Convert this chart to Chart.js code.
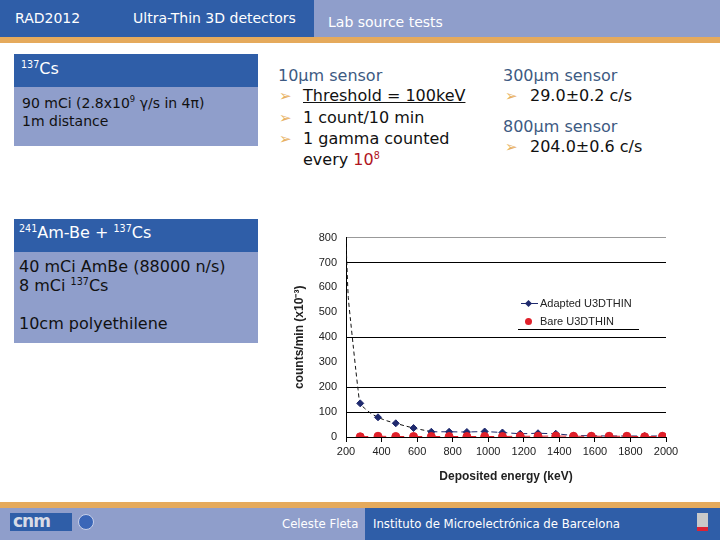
<!DOCTYPE html>
<html>
<head>
<meta charset="utf-8">
<script src="https://cdn.jsdelivr.net/npm/chart.js@4/dist/chart.umd.min.js"></script>
<style>
	body { margin: 0; width: 720px; height: 540px; position: relative; overflow: hidden; background: #fff; font-family: "DejaVu Sans", Verdana, sans-serif; }
	.abs { position: absolute; white-space: nowrap; }
	.dark { background: #2f5ea8; }
	.lav { background: #8f9ecb; }
	.orange { background: #e5aa5c; }
	.head { color: #fff; font-size: 14px; line-height: 16px; }
	.box { color: #111; font-size: 14px; line-height: 17px; }
	.sub { color: #3d5a82; font-size: 16px; line-height: 18px; }
	.txt { color: #111; font-size: 16px; line-height: 18px; }
	.bul { color: #e8b060; font-size: 15px; line-height: 18px; }
	sup { font-size: 60%; line-height: 0; }
	.leg { font-family: "Liberation Sans", Arial, sans-serif; font-size: 11px; color: #222; line-height: 13px; }
	.foot { color: #fff; font-size: 13px; line-height: 14px; font-family: "DejaVu Sans Condensed", "DejaVu Sans", sans-serif; }
</style>
</head>
<body>
<!-- header -->
<div class="abs dark" style="left:0;top:0;width:314px;height:37px;"></div>
<div class="abs lav" style="left:314px;top:0;width:406px;height:37px;"></div>
<div class="abs orange" style="left:0;top:37px;width:720px;height:6px;"></div>
<div class="abs head" style="left:15px;top:10px;">RAD2012</div>
<div class="abs head" style="left:133px;top:10px;">Ultra-Thin 3D detectors</div>
<div class="abs head" style="left:328px;top:14px;">Lab source tests</div>

<!-- 137Cs box -->
<div class="abs dark" style="left:14px;top:54px;width:244px;height:33px;"></div>
<div class="abs lav" style="left:14px;top:87px;width:244px;height:59px;"></div>
<div class="abs" style="left:21px;top:59px;color:#fff;font-size:16px;line-height:20px;"><sup>137</sup>Cs</div>
<div class="abs box" style="left:22px;top:95px;">90 mCi (2.8x10<sup>9</sup> γ/s in 4π)</div>
<div class="abs box" style="left:22px;top:113px;">1m distance</div>

<!-- middle column -->
<div class="abs sub" style="left:278px;top:67px;">10μm sensor</div>
<div class="abs bul" style="left:279px;top:87px;">➢</div>
<div class="abs txt" style="left:303px;top:87px;text-decoration:underline;">Threshold = 100keV</div>
<div class="abs bul" style="left:279px;top:109px;">➢</div>
<div class="abs txt" style="left:303px;top:109px;">1 count/10 min</div>
<div class="abs bul" style="left:279px;top:130px;">➢</div>
<div class="abs txt" style="left:303px;top:130px;">1 gamma counted</div>
<div class="abs txt" style="left:303px;top:151px;">every <span style="color:#b0151e;">10<sup>8</sup></span></div>

<!-- right column -->
<div class="abs sub" style="left:503px;top:67px;">300μm sensor</div>
<div class="abs bul" style="left:505px;top:87px;">➢</div>
<div class="abs txt" style="left:530px;top:87px;">29.0±0.2 c/s</div>
<div class="abs sub" style="left:503px;top:118px;">800μm sensor</div>
<div class="abs bul" style="left:505px;top:138px;">➢</div>
<div class="abs txt" style="left:530px;top:138px;">204.0±0.6 c/s</div>

<!-- AmBe box -->
<div class="abs dark" style="left:14px;top:219px;width:244px;height:33px;"></div>
<div class="abs lav" style="left:14px;top:252px;width:244px;height:91px;"></div>
<div class="abs" style="left:19px;top:224px;color:#fff;font-size:16px;line-height:18px;"><sup>241</sup>Am-Be + <sup>137</sup>Cs</div>
<div class="abs txt" style="left:19px;top:258px;">40 mCi AmBe (88000 n/s)</div>
<div class="abs txt" style="left:19px;top:277px;">8 mCi <sup>137</sup>Cs</div>
<div class="abs txt" style="left:19px;top:315px;">10cm polyethilene</div>

<!-- chart -->
<canvas id="lineChart" class="abs" style="left:290px;top:222px;" width="400" height="270"></canvas>
<div class="abs" style="left:521px;top:303px;width:17px;height:1px;background:#1f2a6e;"></div>
<div class="abs" style="left:526px;top:301px;width:5px;height:5px;background:#1f2a6e;transform:rotate(45deg);"></div>
<div class="abs leg" style="left:540px;top:297px;">Adapted U3DTHIN</div>
<div class="abs" style="left:525px;top:318px;width:7px;height:7px;border-radius:50%;background:#e0202a;"></div>
<div class="abs leg" style="left:540px;top:315px;">Bare U3DTHIN</div>
<div class="abs" style="left:518px;top:329px;width:121px;height:1px;background:#000;"></div>

<!-- footer -->
<div class="abs orange" style="left:0;top:502px;width:720px;height:6px;"></div>
<div class="abs lav" style="left:0;top:508px;width:365px;height:32px;"></div>
<div class="abs dark" style="left:365px;top:508px;width:355px;height:32px;"></div>
<div class="abs" style="left:10px;top:513px;width:62px;height:18px;background:#2f5ea8;"></div>
<div class="abs" style="left:13px;top:511px;color:#d8dbe6;font:bold 17px 'DejaVu Sans', sans-serif;line-height:20px;letter-spacing:-1px;">cnm</div>
<div class="abs" style="left:78px;top:514px;width:16px;height:16px;border-radius:50%;background:#3a66b8;border:1px solid #c8d0ea;box-sizing:border-box;"></div>
<div class="abs foot" style="left:282px;top:517px;">Celeste Fleta</div>
<div class="abs foot" style="left:373px;top:517px;">Instituto de Microelectrónica de Barcelona</div>
<div class="abs" style="left:697px;top:513px;width:11px;height:18px;background:#c9c9c9;border-bottom:4px solid #d23;box-sizing:border-box;"></div>

<script>
const energy = [280, 380, 480, 580, 680, 780, 880, 980, 1080, 1180, 1280, 1380, 1480, 1580, 1680, 1780, 1880, 1980];
const adaptedCounts = [135, 79, 55, 36, 21, 21, 20, 22, 18, 13, 15, 13, 6, 5, 4, 4, 4, 4];
const bareCounts = [1, 3, 2, 2, 2, 2, 2, 2, 2, 3, 3, 4, 3, 3, 3, 3, 1, 3];
const fitEnergy = [200, 205, 213, 226, 240, 255, 268, 280, 310, 340, 380, 430, 480, 530, 580, 640, 680];
const fitCounts = [790, 690, 560, 465, 370, 270, 190, 135, 112, 95, 79, 65, 55, 45, 36, 27, 22];
const xTicks = [200, 400, 600, 800, 1000, 1200, 1400, 1600, 1800, 2000];
const gridShown = [100, 200, 400, 700];

const navy = "#1f2a6e";
const red = "#e0202a";

const toPoints = (xs, ys) => xs.map((x, i) => ({ x: x, y: ys[i] }));

const ctx = document.getElementById("lineChart");
const lineChart = new Chart(ctx, {
	type: "line",
	data: {
		datasets: [
			{
				label: "Bare U3DTHIN",
				data: toPoints(energy, bareCounts),
				borderColor: red,
				backgroundColor: red,
				borderWidth: 1,
				borderDash: [8, 10],
				pointStyle: "circle",
				pointRadius: 4,
				order: 0,
			},
			{
				label: "Adapted U3DTHIN",
				data: toPoints(energy, adaptedCounts),
				borderColor: navy,
				backgroundColor: navy,
				borderWidth: 1,
				borderDash: [6, 4],
				pointStyle: "rectRot",
				pointRadius: 3.5,
				segment: {
					borderColor: (c) => (c.p0.parsed.x < 650 ? "rgba(0,0,0,0)" : navy),
				},
				order: 1,
			},
			{
				label: "fit",
				data: toPoints(fitEnergy, fitCounts),
				borderColor: "#111",
				borderWidth: 1,
				borderDash: [4, 3],
				pointRadius: 0,
				tension: 0.3,
				order: 2,
			},
		],
	},
	options: {
		responsive: false,
		animation: false,
		layout: { padding: { top: 11, right: 24 } },
		plugins: { legend: { display: false }, tooltip: { enabled: false } },
		scales: {
			x: {
				type: "linear",
				min: 200,
				max: 2000,
				afterBuildTicks: (scale) => { scale.ticks = xTicks.map((v) => ({ value: v })); },
				afterFit: (scale) => { scale.height = 55; },
				grid: { drawOnChartArea: false, tickLength: 5, color: "#000" },
				border: { color: "#000" },
				ticks: {
					color: "#222",
					font: { family: "Liberation Sans", size: 11 },
					padding: 3,
					maxRotation: 0,
					callback: (v) => String(v),
				},
				title: {
					display: true,
					text: "Deposited energy (keV)",
					color: "#222",
					font: { family: "Liberation Sans", size: 12, weight: "bold" },
					padding: { top: 4, bottom: 8 },
				},
			},
			y: {
				min: 0,
				max: 800,
				afterFit: (scale) => { scale.width = 56; },
				grid: {
					drawTicks: false,
					color: (c) => {
						if (c.tick.value === 800) return "#999";
						return gridShown.includes(c.tick.value) ? "#000" : "rgba(0,0,0,0)";
					},
				},
				border: { color: "#000" },
				ticks: { stepSize: 100, color: "#222", font: { family: "Liberation Sans", size: 11 }, padding: 9 },
				title: {
					display: true,
					text: "counts/min (x10⁻³)",
					color: "#222",
					font: { family: "Liberation Sans", size: 12, weight: "bold" },
					padding: { top: 2, bottom: 2 },
				},
			},
		},
	},
});
</script>
</body>
</html>
